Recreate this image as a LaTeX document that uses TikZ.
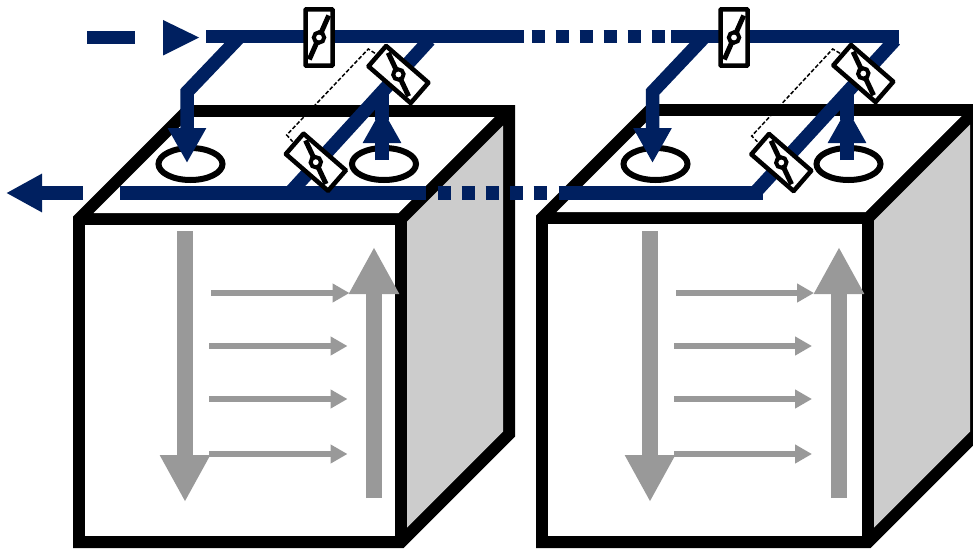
\documentclass[tikz,border=0pt]{standalone}
\usepackage{tikz}
\usetikzlibrary{arrows.meta}
\definecolor{flowblue}{HTML}{002060}
\definecolor{flowgrey}{HTML}{999999}
\definecolor{sidegrey}{HTML}{CCCCCC}
\tikzset{
  every picture/.style={x=1pt, y=-1pt, line join=miter},
  duct/.style={draw=flowblue, line width=13.5pt},
  ductdots/.style={duct, dash pattern=on 13pt off 11pt},
  ducttip/.style={duct, -{Triangle[length=35pt, width=36pt]}},
  bigflow/.style={draw=flowgrey, line width=16pt, -{Triangle[length=47pt, width=47pt]}},
  smallflow/.style={draw=flowgrey, line width=6.5pt, -{Triangle[length=17pt, width=18pt]}},
  port/.style={draw=black, line width=6pt},
  link/.style={draw=black, line width=1.5pt, dash pattern=on 4pt off 2pt},
  valveline/.style={draw=black, line width=4.5pt},
  valve/.pic={
    \draw[valveline, fill=white, rounded corners=0.5pt] (-13.5,-28) rectangle (13.5,28);
    \draw[valveline, line width=5pt] (9.7,-22)--(-9.7,22);
    \draw[valveline, line width=4pt, fill=white] (0,0) circle (5.2);
  },
}

\begin{document}
\begin{tikzpicture}
\clip (0,0) rectangle (973,551);
\fill[black] (73,216.5)--(184.5,105)--(515,105)--(515,436.5)--(403.5,548)--(73,548)--cycle;
\fill[white] (85,225) rectangle (395,536);
\fill[white] (93.5,213)--(189.5,117)--(494.5,117)--(398.5,213)--cycle;
\fill[sidegrey] (407,221.5)--(503,125.5)--(503,431.5)--(407,527.5)--cycle;
\fill[black] (536,215.5)--(647.5,104)--(982,104)--(982,436.5)--(870.5,548)--(536,548)--cycle;
\fill[white] (548,224) rectangle (862,536);
\fill[white] (556.5,212)--(652.5,116)--(961.5,116)--(865.5,212)--cycle;
\fill[sidegrey] (874,220.5)--(970,124.5)--(970,431.5)--(874,527.5)--cycle;

\draw[bigflow] (185,231)--(185,502);
\draw[bigflow] (374,498)--(374,247);
\draw[smallflow] (211,293)--(349.5,293);
\draw[smallflow] (209,346)--(347.5,346);
\draw[smallflow] (209,399)--(347.5,399);
\draw[smallflow] (209,454)--(347.5,454);
\draw[bigflow] (650,231)--(650,502);
\draw[bigflow] (839,498)--(839,247);
\draw[smallflow] (676,293)--(814,293);
\draw[smallflow] (674,346)--(812,346);
\draw[smallflow] (674,399)--(812,399);
\draw[smallflow] (674,454)--(812,454);

\draw[port] (190.5,164) circle [x radius=32, y radius=16];
\draw[port] (384,164) circle [x radius=32, y radius=16];
\draw[port] (655.5,164) circle [x radius=32, y radius=16];
\draw[port] (848.5,164) circle [x radius=32, y radius=16];

\draw[duct] (87,37.5)--(135,37.5);
\fill[flowblue] (163,20)--(199,37.5)--(163,55.5)--cycle;
\draw[duct] (206,36.5)--(524,36.5);
\draw[ductdots] (531.5,36.5)--(665,36.5);
\draw[duct] (671,36.5)--(899,36.5);
\draw[duct] (120,193)--(426,193);
\draw[ductdots] (437.5,193)--(547,193);
\draw[duct] (558.5,193)--(763,193);
\draw[duct, -{Triangle[length=36pt, width=36pt]}] (83,193)--(6,193);

\draw[ducttip] (240,36.5)--(187,92)--(187,163);
\draw[ducttip] (705,36.5)--(652.5,92)--(652.5,163);
\draw[duct] (429.5,40)--(292,190.5);
\draw[duct] (895,40)--(757,190.5);
\draw[duct] (382,120)--(382,92);
\draw[ducttip] (382,160)--(382,108);
\draw[duct] (847,120)--(847,92);
\draw[ducttip] (847,160)--(847,108);

\draw[link] (375,53.3)--(368.3,49)--(286.7,135)--(292.7,141.7);
\draw[link] (840,53.3)--(832.7,49)--(751.7,136)--(757.3,141.7);

\pic at (319,37.5) {valve};
\pic at (734,37.5) {valve};
\pic[rotate=49] at (398.4,74.5) {valve};
\pic[rotate=49] at (315.8,162.2) {valve};
\pic[rotate=49] at (863.3,73.5) {valve};
\pic[rotate=49] at (781.3,162.5) {valve};
\end{tikzpicture}
\end{document}
